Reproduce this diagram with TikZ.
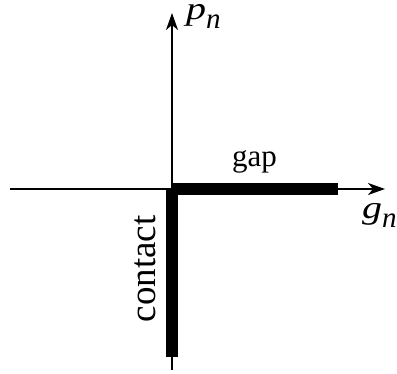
\documentclass[tikz,border=0pt]{standalone}
\usepackage{fontspec}
\setmainfont{Liberation Serif}
\usetikzlibrary{arrows.meta,positioning}
\newcommand{\subvar}[2]{\scalebox{1.25}[1]{\textit{#1}}\raisebox{-9pt}{\fontsize{29}{32}\selectfont\textit{#2}}}
\begin{document}
\begin{tikzpicture}[x=1pt,y=-1pt,
  axis/.style={line width=1.8pt,-{Stealth[length=17pt,width=12pt,inset=5pt]}},
  branch/.style={line width=12pt,line cap=butt},
  lbl/.style={inner sep=0pt,font=\fontsize{32}{36}\selectfont}]
\useasboundingbox (0,0) rectangle (397,374);
% Origin and axis ends
\coordinate (O) at (172,189);
\coordinate (xl) at (10,189);
\coordinate (xr) at (385,189);
\coordinate (yb) at (172,370);
\coordinate (yt) at (172,13);
\coordinate (gapend) at (338,189);
\coordinate (contactend) at (172,357);
% Axes
\draw[axis] (xl) -- (xr);
\draw[axis] (yb) -- (yt);
% Complementarity graph
\draw[branch] (O) -- (gapend);
\draw[branch] (O) -- (contactend);
% Labels
\node[lbl,anchor=base west] (pn) at (186,20) {\subvar{p}{n}};
\node[lbl,anchor=base west] (gn) at (362,219) {\subvar{g}{n}};
\node[lbl,anchor=base west,font=\fontsize{31}{36}\selectfont] (gap) at (232,167) {gap};
\node[lbl,anchor=base,rotate=90,font=\fontsize{37}{40}\selectfont] (contact) at (155,269) {contact};
\end{tikzpicture}
\end{document}
